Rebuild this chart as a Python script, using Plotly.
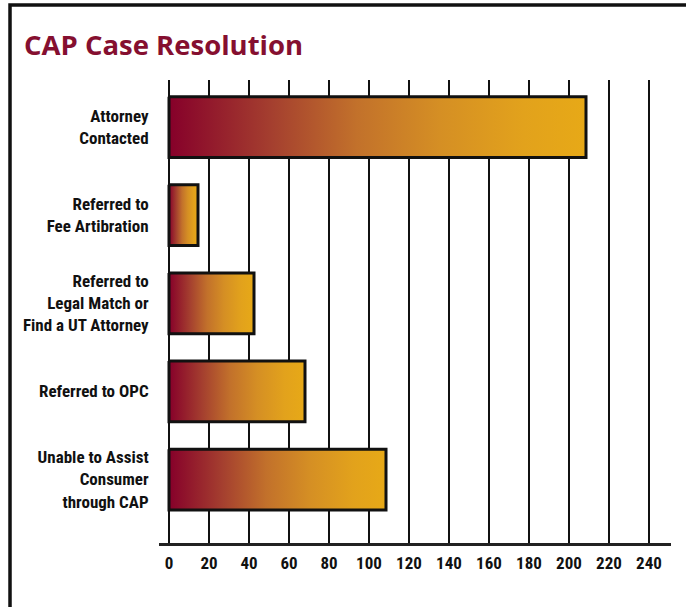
import plotly.graph_objects as go

categories = [
    "Attorney<br>Contacted",
    "Referred to<br>Fee Artibration",
    "Referred to<br>Legal Match or<br>Find a UT Attorney",
    "Referred to OPC",
    "Unable to Assist<br>Consumer<br>through CAP",
]
values = [208.5, 14.5, 42.5, 68, 108.5]
x_ticks = list(range(0, 241, 20))

gradient = [
    [0.0, "#86002a"],
    [0.25, "#a5402f"],
    [0.45, "#c2712b"],
    [0.65, "#d58f24"],
    [0.85, "#e2a21c"],
    [1.0, "#e7a917"],
]

half = 0.345
fig = go.Figure()
for i, v in enumerate(values):
    fig.add_trace(go.Scatter(
        x=[0, v, v, 0, 0],
        y=[i - half, i - half, i + half, i + half, i - half],
        mode="lines",
        fill="toself",
        fillgradient=dict(type="horizontal", colorscale=gradient),
        line=dict(color="#111111", width=3),
        hoverinfo="skip",
        showlegend=False,
    ))

cond = "Roboto Condensed, Liberation Sans Narrow, sans-serif"

fig.update_layout(
    width=686, height=607,
    margin=dict(l=159, r=15, t=80, b=64, autoexpand=False),
    paper_bgcolor="white", plot_bgcolor="white",
    title=dict(
        text="<b>CAP Case Resolution</b>",
        x=24 / 686, xanchor="left", xref="container",
        y=1 - 45 / 607, yanchor="middle", yref="container",
        font=dict(family="Open Sans, sans-serif", size=27.5, color="#850f30"),
    ),
    xaxis=dict(
        range=[-5, 251], tickvals=x_ticks, ticktext=[f"<b>{t}</b>" for t in x_ticks],
        showgrid=True, gridcolor="#111111", gridwidth=2,
        showline=True, linecolor="#222222", linewidth=2.5,
        zeroline=False, ticks="outside", ticklen=3, tickcolor="rgba(0,0,0,0)",
        tickfont=dict(family=cond, size=17, color="#111111"),
        fixedrange=True, automargin=False,
    ),
    yaxis=dict(
        range=[4.72, -0.534], tickvals=list(range(len(categories))),
        ticktext=[f"<b>{c}</b>" for c in categories],
        showgrid=False, zeroline=False, showline=False,
        ticks="outside", ticklen=6, tickcolor="rgba(0,0,0,0)",
        tickfont=dict(family=cond, size=17, color="#111111"),
        fixedrange=True, automargin=False,
    ),
)

# frame (left and top border)
fig.add_shape(type="path", xref="paper", yref="paper",
              path="M -0.291 -0.2 L -0.291 1.162 L 1.05 1.162",
              line=dict(color="#111111", width=3.5))

fig.write_html("out.html", config={"displayModeBar": False},
               post_script="document.body.style.margin='0px';")
